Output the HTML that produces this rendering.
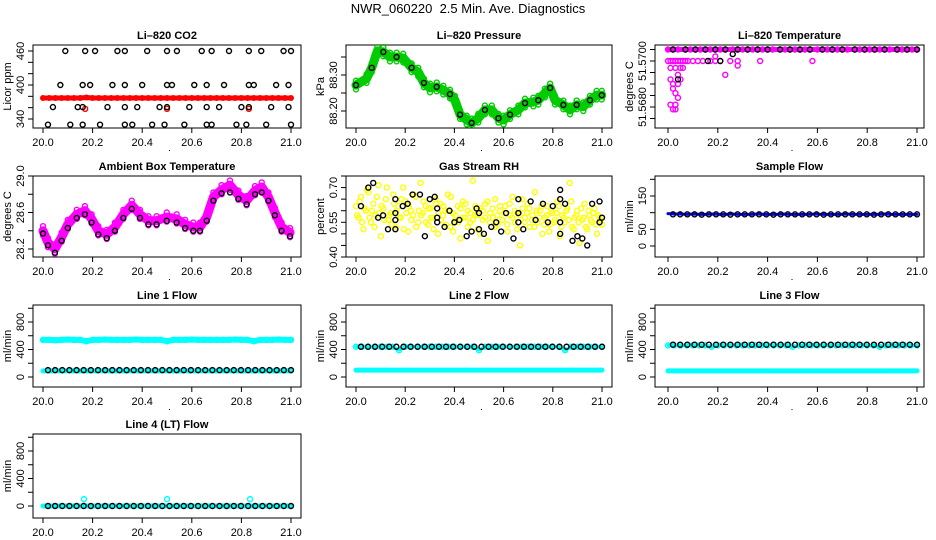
<!DOCTYPE html>
<html><head><meta charset="utf-8"><style>
html,body{margin:0;padding:0;background:#fff;}
svg{display:block;font-family:"Liberation Sans",sans-serif;}
</style></head><body>
<svg id="chart" width="936" height="540" viewBox="0 0 936 540" xmlns="http://www.w3.org/2000/svg">
<text x="468" y="13" text-anchor="middle" font-size="13" style="white-space:pre">NWR_060220  2.5 Min. Ave. Diagnostics</text>
</svg>
<script>
// ---------- data ----------
const xTickVals = [20.0, 20.2, 20.4, 20.6, 20.8, 21.0];
const xTickLabels = ["20.0", "20.2", "20.4", "20.6", "20.8", "21.0"];

// CO2
const co2BlackX = [0.09,0.17,0.21,0.30,0.33,0.42,0.50,0.54,0.64,0.68,0.75,0.83,0.88,0.97,1.0,
  0.07,0.16,0.19,0.28,0.33,0.40,0.50,0.52,0.61,0.66,0.73,0.83,0.85,0.94,0.99,
  0.04,0.14,0.16,0.26,0.33,0.38,0.47,0.50,0.59,0.66,0.71,0.80,0.83,0.92,0.99,
  0.02,0.11,0.16,0.23,0.33,0.36,0.44,0.49,0.57,0.66,0.68,0.78,0.82,0.90,1.0];
const co2BlackY = [460,460,460,460,460,460,460,460,460,460,460,460,460,460,460,
  400,400,400,400,400,400,400,400,400,400,400,400,400,400,400,
  361,361,361,361,361,361,361,361,361,361,361,361,361,361,361,
  330,330,330,330,330,330,330,330,330,330,330,330,330,330,330];
const co2RedY = [377,377,377,377,377,377,377,378,377,377,377,377,377,377,377,377,377,377,377,377,377,377,377,377,377,377,377,377,377,377,377,377,377,377,377,377,377,377,377,377,377];
const co2RedSpikeX = [0.17, 0.50, 0.83];
const co2RedSpikeY = [358, 358, 358];

// Pressure
const presX = [0.0,0.043,0.064,0.087,0.111,0.138,0.165,0.192,0.226,0.253,0.276,0.301,0.328,0.355,0.382,0.402,0.423,0.45,0.47,0.497,0.524,0.552,0.579,0.6,0.626,0.66,0.687,0.721,0.741,0.768,0.789,0.809,0.843,0.87,0.897,0.924,0.951,0.978,0.999];
const presY = [88.272,88.29,88.32,88.367,88.364,88.35,88.35,88.347,88.32,88.308,88.278,88.264,88.267,88.258,88.247,88.23,88.19,88.175,88.167,88.18,88.203,88.203,88.18,88.175,88.19,88.203,88.222,88.225,88.23,88.25,88.264,88.23,88.217,88.203,88.217,88.212,88.23,88.244,88.244];

// Li-820 temperature
const liTopX = [0.0,0.02,0.04,0.07,0.09,0.11,0.13,0.15,0.17,0.19,0.21,0.23,0.26,0.28,0.30,0.32,0.34,0.36,0.38,0.40,0.42,0.45,0.47,0.49,0.51,0.53,0.55,0.57,0.60,0.62,0.64,0.66,0.68,0.70,0.72,0.75,0.77,0.79,0.81,0.83,0.85,0.87,0.89,0.92,0.94,0.96,0.98,1.0];
const liTopY = [51.5705,51.5705,51.5705,51.5705,51.5705,51.5705,51.5705,51.5705,51.5705,51.5705,51.5705,51.5705,51.5705,51.5705,51.5705,51.5705,51.5705,51.5705,51.5705,51.5705,51.5705,51.5705,51.5705,51.5705,51.5705,51.5705,51.5705,51.5705,51.5705,51.5705,51.5705,51.5705,51.5705,51.5705,51.5705,51.5705,51.5705,51.5705,51.5705,51.5705,51.5705,51.5705,51.5705,51.5705,51.5705,51.5705,51.5705,51.5705];
const liMagX = [0.0,0.01,0.02,0.03,0.04,0.05,0.06,0.07,0.08,0.10,0.12,0.14,0.17,0.19,0.21,0.25,0.28,0.37,0.58,0.19,0.23,0.28,0.01,0.03,0.05,0.06,0.04,0.05,0.01,0.04,0.02,0.02,0.03,0.04,0.01,0.03,0.02,0.03];
const liMagY = [51.5700,51.5700,51.5700,51.5700,51.5700,51.5700,51.5700,51.5700,51.5700,51.5700,51.5700,51.5700,51.5700,51.5700,51.5700,51.5700,51.5700,51.5700,51.5700,51.5702,51.5694,51.5698,51.5697,51.5697,51.5697,51.5697,51.5694,51.5692,51.5692,51.5690,51.5690,51.5688,51.5686,51.5684,51.5681,51.5681,51.5679,51.5679];
const liBlackX = [0.16,0.21,0.26,0.04];
const liBlackY = [51.5700,51.5700,51.5703,51.5692];

// Ambient box temperature
const ambX = [0.0,0.02,0.048,0.075,0.10,0.136,0.169,0.196,0.223,0.257,0.29,0.324,0.358,0.391,0.425,0.458,0.499,0.539,0.573,0.606,0.633,0.66,0.687,0.72,0.754,0.788,0.821,0.855,0.882,0.909,0.935,0.962,0.996];
const ambY = [28.40,28.27,28.20,28.33,28.47,28.58,28.62,28.53,28.40,28.36,28.44,28.58,28.68,28.58,28.51,28.51,28.55,28.53,28.47,28.44,28.44,28.55,28.77,28.85,28.90,28.79,28.73,28.84,28.88,28.77,28.60,28.44,28.38];
const ambBlackY = [28.37,28.24,28.16,28.29,28.43,28.54,28.58,28.49,28.36,28.32,28.40,28.54,28.64,28.54,28.47,28.47,28.51,28.49,28.43,28.40,28.40,28.51,28.73,28.81,28.82,28.75,28.69,28.80,28.82,28.73,28.57,28.40,28.34];

// Gas stream RH
const rhYellow = [0.62,0.57,0.66,0.52,0.60,0.68,0.55,0.63,0.58,0.71,0.49,0.61,0.65,0.56,0.59,0.67,0.53,0.62,0.57,0.70,
  0.64,0.51,0.60,0.58,0.66,0.55,0.72,0.59,0.62,0.54,0.61,0.57,0.65,0.50,0.63,0.58,0.60,0.67,0.53,0.59,
  0.56,0.62,0.48,0.64,0.57,0.60,0.55,0.73,0.58,0.52,0.61,0.56,0.63,0.47,0.59,0.57,0.65,0.54,0.60,0.56,
  0.62,0.51,0.58,0.66,0.55,0.59,0.45,0.61,0.57,0.63,0.53,0.58,0.68,0.55,0.60,0.50,0.57,0.62,0.54,0.59,
  0.56,0.64,0.49,0.58,0.55,0.61,0.72,0.53,0.57,0.60,0.46,0.56,0.63,0.52,0.58,0.55,0.61,0.50,0.57,0.54];
const rhYellow2 = [0.58,0.64,0.55,0.61,0.69,0.57,0.60,0.53,0.66,0.59,0.62,0.56,0.70,0.58,0.54,0.63,0.60,0.57,0.65,0.52,
  0.59,0.62,0.56,0.67,0.53,0.60,0.58,0.64,0.55,0.61,0.57,0.52,0.63,0.59,0.56,0.62,0.54,0.60,0.66,0.51,
  0.58,0.55,0.61,0.57,0.63,0.53,0.59,0.56,0.62,0.58,0.50,0.60,0.57,0.64,0.55,0.61,0.53,0.58,0.62,0.56,
  0.59,0.54,0.63,0.57,0.60,0.52,0.58,0.65,0.55,0.59,0.61,0.56,0.53,0.60,0.57,0.62,0.54,0.58,0.51,0.60,
  0.55,0.59,0.62,0.53,0.57,0.60,0.56,0.64,0.52,0.58,0.55,0.61,0.57,0.53,0.60,0.56,0.59,0.54,0.58,0.56];
const rhBlackX = [0.02,0.05,0.07,0.09,0.11,0.13,0.16,0.16,0.16,0.16,0.19,0.21,0.23,0.26,0.28,0.30,0.32,0.33,0.33,0.33,0.36,0.38,0.40,0.42,0.45,0.47,0.49,0.50,0.50,0.52,0.55,0.57,0.59,0.61,0.64,0.66,0.66,0.66,0.68,0.71,0.73,0.76,0.78,0.80,0.83,0.83,0.83,0.83,0.85,0.88,0.90,0.92,0.94,0.96,0.99,0.99,1.0];
const rhBlackY = [0.62,0.70,0.72,0.57,0.58,0.52,0.65,0.59,0.56,0.52,0.62,0.63,0.67,0.67,0.49,0.65,0.66,0.61,0.57,0.55,0.53,0.60,0.55,0.56,0.49,0.51,0.61,0.59,0.52,0.50,0.53,0.55,0.51,0.59,0.48,0.55,0.59,0.65,0.52,0.64,0.56,0.63,0.55,0.62,0.55,0.50,0.65,0.69,0.63,0.47,0.49,0.48,0.45,0.63,0.64,0.55,0.57];

// Flows (sampled evenly across the day)
const sampleBlue = [97,96,96,95,96,95,95,96,95,95,96,95,95,95,96,95,95,95,96,95,95,95,95,96,95,95,95,95,96,95,95,95,95,95,96,95,95,95,95,95];
const sampleBlack = [95,95,95,95,94,95,95,95,94,95,95,95,95,95,94,95,95,95,95,95,95,94,95,95,95,95,95,95,94,95,95,95,95,95,95];
const line1Cyan = [540,540,535,540,545,540,540,520,540,540,545,540,540,540,540,545,540,540,540,540,520,540,540,540,545,540,540,540,540,540,540,545,540,540,520,540,540,540,545,540,540];
const line1CyanLow = [90,90,90,90,90,90,90,90,90,90,90,90,90,90,90,90,90,90,90,90,90];
const line1Black = [100,100,100,100,100,100,100,100,100,100,100,100,100,100,100,100,100,100,100,100,100,100,100,100,100,100,100,100,100,100,100,100,100,100,100];
const line2Cyan = [440,440,440,440,440,440,440,390,440,440,440,440,440,440,440,440,440,440,440,440,390,440,440,440,440,440,440,440,440,440,440,440,440,440,390,440,440,440,440,440,440];
const line2CyanLow = [100,100,100,100,100,100,100,100,100,100,100,100,100,100,100,100,100,100,100,100,100];
const line2Black = [440,440,440,440,440,440,440,440,440,440,440,440,440,440,440,440,440,440,440,440,440,440,440,440,440,440,440,440,440,440,440,440,440,440,440];
const line3Cyan = [460,460,460,460,460,460,460,440,460,460,460,460,460,460,460,460,460,460,460,460,440,460,460,460,460,460,460,460,460,460,460,460,460,460,440,460,460,460,460,460,460];
const line3CyanLow = [90,90,90,90,90,90,90,90,90,90,90,90,90,90,90,90,90,90,90,90,90];
const line3Black = [470,470,470,470,470,470,470,470,470,470,470,470,470,470,470,470,470,470,470,470,470,470,470,470,470,470,470,470,470,470,470,470,470,470,470];
const line4Cyan = [0,0,0,0,0,0,0,0,0,0,0,0,0,0,0,0,0,0,0,0,0,0,0,0,0,0,0,0,0,0,0,0,0,0,0,0,0,0,0,0,0];
const line4SpikeX = [0.165, 0.50, 0.835];
const line4SpikeY = [100, 100, 100];
const line4Black = [0,0,0,0,0,0,0,0,0,0,0,0,0,0,0,0,0,0,0,0,0,0,0,0,0,0,0,0,0,0,0,0,0,0,0];

// ---------- drawing ----------
const svg = document.getElementById('chart');
const NS = 'http://www.w3.org/2000/svg';
const colL = [33, 346, 655], colR = [301, 612, 924];
const colX0 = [43, 356, 668], colX1 = [291, 602, 917];
const rowT = [45, 176, 305, 434], rowB = [128, 257, 387, 518];

function el(tag, attrs, parent) {
  const e = document.createElementNS(NS, tag);
  for (const k in attrs) e.setAttribute(k, attrs[k]);
  (parent || svg).appendChild(e);
  return e;
}
function evenX(arr, start, end) {
  return arr.map((v, i) => start + (end - start) * i / (arr.length - 1));
}

function panel(col, row, name, title, ytitle, yv0, yp0, yv1, yp1, yTicks, yLabels) {
  const g = el('g', {});
  
  
  const L = colL[col], R = colR[col], T = rowT[row], B = rowB[row];
  const sx = v => colX0[col] + (v - 20) * (colX1[col] - colX0[col]);
  const sy = v => yp0 + (v - yv0) * (yp1 - yp0) / (yv1 - yv0);
  const t = el('text', {x: (L + R) / 2, y: T - 6, 'text-anchor': 'middle', 'font-size': 11, 'font-weight': 'bold'}, g);
  t.textContent = title;
  
  
  const box = el('rect', {x: L, y: T, width: R - L, height: B - T, fill: 'none', stroke: '#000', 'stroke-width': 1}, g);
  
  
  const xa = el('g', {}, g);
  
  
  xTickVals.forEach((v, i) => {
    const x = sx(v);
    el('line', {x1: x, y1: B, x2: x, y2: B + 5, stroke: '#000'}, xa);
    const lt = el('text', {x: x, y: B + 18, 'text-anchor': 'middle', 'font-size': 11}, xa);
    lt.textContent = xTickLabels[i];
    
    
  });
  el('rect', {x: (L + R) / 2 + 2, y: B + 22, width: 1, height: 1, fill: '#000'}, xa);
  const ya = el('g', {}, g);
  
  
  yTicks.forEach(v => {
    const y = sy(v);
    if (y < T - 1 || y > B + 1) return;
    el('line', {x1: L - 5, y1: y, x2: L, y2: y, stroke: '#000'}, ya);
  });
  yLabels.forEach(lbl => {
    const y = sy(parseFloat(lbl));
    const lt = el('text', {x: 0, y: 0, 'text-anchor': 'middle', 'font-size': 11, transform: `translate(${L - 9},${y}) rotate(-90)`}, ya);
    lt.textContent = lbl;
    
    
  });
  const yt = el('text', {x: 0, y: 0, 'text-anchor': 'middle', 'font-size': 11, transform: `translate(${L - 22},${(T + B) / 2}) rotate(-90)`}, ya);
  yt.textContent = ytitle;
  
  
  const clip = 'clip-' + name;
  const cp = el('clipPath', {id: clip}, g);
  el('rect', {x: L, y: T, width: R - L, height: B - T}, cp);
  const pg = el('g', {'clip-path': `url(#${clip})`}, g);
  return {sx, sy, g: pg, name};
}
function pts(p, xs, ys, color, label, r, sw) {
  const g = el('g', {}, p.g);
  
  
  xs.forEach((x, i) => {
    const c = el('circle', {cx: p.sx(20 + x), cy: p.sy(ys[i]), r: r || 2.5, fill: 'none', stroke: color, 'stroke-width': sw || 1.4}, g);
    
    
  });
}
function band(p, xs, ys, color, w, label) {
  const pl = el('polyline', {points: xs.map((x, i) => p.sx(20 + x) + ',' + p.sy(ys[i])).join(' '), fill: 'none', stroke: color, 'stroke-width': w, 'stroke-linejoin': 'round', 'stroke-linecap': 'round'}, p.g);
  
  
}

// CO2
let p = panel(0, 0, 'co2', 'Li\u2013820 CO2', 'Licor ppm', 460, 51, 340, 119, [340,360,380,400,420,440,460], ['340','400','460']);
band(p, evenX(co2RedY, 0, 1), co2RedY, '#ff0000', 5, 'red-band');
pts(p, evenX(co2RedY, 0, 1), co2RedY, '#ff0000', 'co2-red', 2.3);
pts(p, co2RedSpikeX, co2RedSpikeY, '#ff0000', 'co2-red-spike');
pts(p, co2BlackX, co2BlackY, '#000', 'co2-black');

// Pressure
p = panel(1, 0, 'pressure', 'Li\u2013820 Pressure', 'kPa', 88.30, 75, 88.20, 111, [88.20,88.25,88.30,88.35], ['88.20','88.30']);
band(p, presX, presY, '#00cc00', 9, 'green-band');
pts(p, presX, presY.map(v => v + 0.012), '#00cc00', 'pressure-green-hi');
pts(p, presX, presY.map(v => v - 0.012), '#00cc00', 'pressure-green-lo');
pts(p, presX.filter((v, i) => i % 2 === 0), presY.filter((v, i) => i % 2 === 0), '#000', 'pressure-black');

// Li temperature
p = panel(2, 0, 'li-temp', 'Li\u2013820 Temperature', 'degrees C', 51.5700, 61, 51.5680, 107, [51.5675,51.5680,51.5685,51.5690,51.5695,51.5700,51.5705], ['51.5700','51.5680']);
band(p, liTopX, liTopY, '#ff00ff', 5, 'magenta-band');
pts(p, liTopX, liTopY, '#ff00ff', 'li-temp-magenta-top');
pts(p, liMagX, liMagY, '#ff00ff', 'li-temp-magenta');
pts(p, liTopX.filter((v, i) => i % 2 === 1), liTopY.filter((v, i) => i % 2 === 1), '#000', 'li-temp-black');
pts(p, liBlackX, liBlackY, '#000', 'li-temp-black-extra');

// Ambient
p = panel(0, 1, 'ambient', 'Ambient Box Temperature', 'degrees C', 29.0, 176, 28.2, 249, [28.2,28.4,28.6,28.8,29.0], ['28.2','28.6','29.0']);
band(p, ambX, ambY, '#ff00ff', 9, 'magenta-band');
pts(p, ambX, ambY.map(v => v + 0.05), '#ff00ff', 'ambient-magenta-hi');
pts(p, ambX, ambY.map(v => v - 0.05), '#ff00ff', 'ambient-magenta-lo');
pts(p, ambX, ambBlackY, '#000', 'ambient-black');

// RH
p = panel(1, 1, 'rh', 'Gas Stream RH', 'percent', 0.40, 257, 0.75, 176, [0.40,0.45,0.50,0.55,0.60,0.65,0.70,0.75], ['0.40','0.55','0.70']);
pts(p, evenX(rhYellow, 0, 1), rhYellow, '#ffff00', 'rh-yellow');
pts(p, evenX(rhYellow2, 0.005, 0.995), rhYellow2, '#ffff00', 'rh-yellow-2');
pts(p, rhBlackX, rhBlackY, '#000', 'rh-black');

// Sample flow
p = panel(2, 1, 'sample-flow', 'Sample Flow', 'ml/min', 0, 246, 150, 196, [0,50,100,150,200], ['0','50','150']);
band(p, evenX(sampleBlue, 0, 1), sampleBlue, '#0000ff', 3, 'blue-band');
pts(p, evenX(sampleBlack, 0.02, 1), sampleBlack, '#000', 'sample-black');

// Line flows
const fT = [0,200,400,600,800,1000], fL = ['0','400','800'];
p = panel(0, 2, 'line1-flow', 'Line 1 Flow', 'ml/min', 0, 377, 800, 322, fT, fL);
band(p, evenX(line1Cyan, 0, 1), line1Cyan, '#00ffff', 6, 'cyan-band');
pts(p, evenX(line1Cyan, 0, 1), line1Cyan, '#00ffff', 'line1-cyan');
band(p, evenX(line1CyanLow, 0, 1), line1CyanLow, '#00ffff', 5, 'cyan-low-band');
pts(p, evenX(line1Black, 0.02, 1), line1Black, '#000', 'line1-black');

p = panel(1, 2, 'line2-flow', 'Line 2 Flow', 'ml/min', 0, 377, 800, 322, fT, fL);
band(p, evenX(line2Cyan, 0, 1), line2Cyan, '#00ffff', 3, 'cyan-band');
pts(p, evenX(line2Cyan, 0, 1), line2Cyan, '#00ffff', 'line2-cyan');
band(p, evenX(line2CyanLow, 0, 1), line2CyanLow, '#00ffff', 5, 'cyan-low-band');
pts(p, evenX(line2Black, 0.02, 1), line2Black, '#000', 'line2-black');

p = panel(2, 2, 'line3-flow', 'Line 3 Flow', 'ml/min', 0, 377, 800, 322, fT, fL);
band(p, evenX(line3Cyan, 0, 1), line3Cyan, '#00ffff', 3, 'cyan-band');
pts(p, evenX(line3Cyan, 0, 1), line3Cyan, '#00ffff', 'line3-cyan');
band(p, evenX(line3CyanLow, 0, 1), line3CyanLow, '#00ffff', 5, 'cyan-low-band');
pts(p, evenX(line3Black, 0.02, 1), line3Black, '#000', 'line3-black');

p = panel(0, 3, 'line4-flow', 'Line 4 (LT) Flow', 'ml/min', 0, 506, 800, 451, fT, fL);
band(p, evenX(line4Cyan, 0, 1), line4Cyan, '#00ffff', 5, 'cyan-band');
pts(p, line4SpikeX, line4SpikeY, '#00ffff', 'line4-cyan-spike');
pts(p, evenX(line4Black, 0.02, 1), line4Black, '#000', 'line4-black');
</script>
</body></html>
